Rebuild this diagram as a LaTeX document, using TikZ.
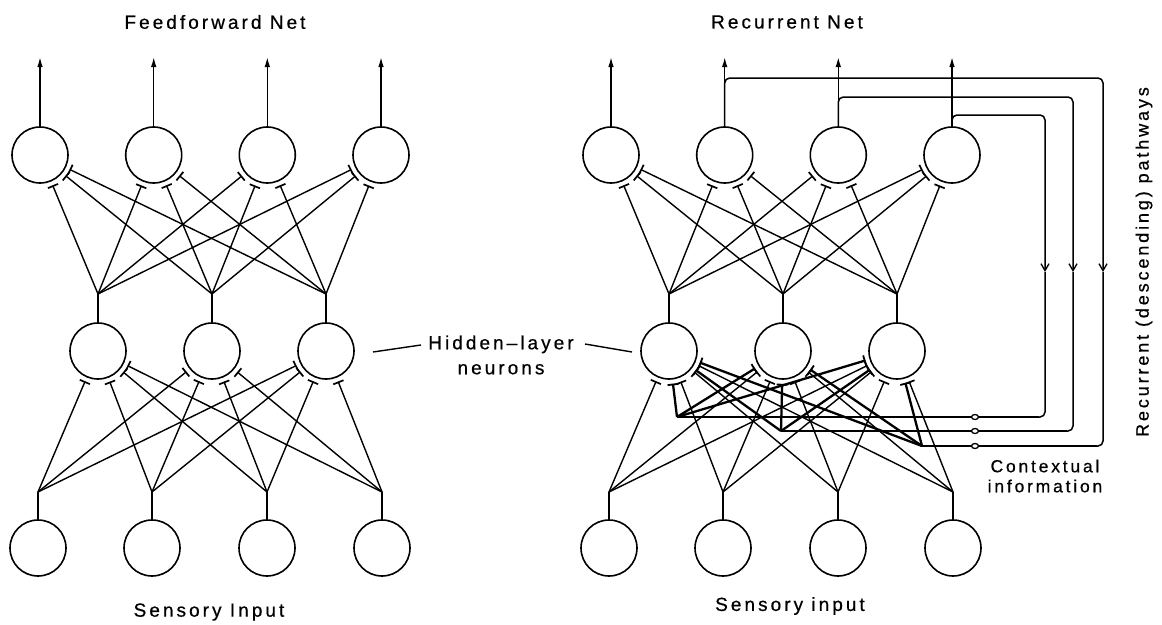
\documentclass[tikz,border=0pt]{standalone}
\usepackage{fontspec}
\setmainfont{Liberation Sans}[LetterSpace=16,FakeBold=0.6]
\usetikzlibrary{arrows.meta,shapes.geometric}
\begin{document}
\begin{tikzpicture}[x=1pt,y=-1pt,
  neuron/.style={circle,draw,line width=1.6pt,minimum size=56pt,inner sep=0pt},
  wire/.style={line width=1.4pt},
  syn/.style={wire,-{Bar[width=11pt,line width=1.7pt]},shorten >=4pt},
  ctxsyn/.style={line width=2.3pt,-{Bar[width=11pt,line width=1.8pt]},shorten >=4pt},
  outarrow/.style={wire,-{Latex[length=10pt,width=5.5pt]}},
  looppath/.style={line width=1.5pt,rounded corners=5pt},
  ctxline/.style={line width=2.6pt},
  downtip/.style={-{Straight Barb[length=7pt,width=8pt,line width=1.3pt]}},
  lbl/.style={font=\fontsize{19}{25}\selectfont,inner sep=0pt,align=center},
  vlbl/.style={font=\fontsize{18}{22}\selectfont,inner sep=0pt},
  smalllbl/.style={font=\fontsize{17.5}{20}\selectfont,inner sep=0pt,align=center},
  ctxmark/.style={ellipse,draw,fill=white,line width=1.3pt,minimum width=7pt,minimum height=5pt,inner sep=0pt}
]
\useasboundingbox (0,0) rectangle (1162,624);

% ---------------- left: feedforward net ----------------
\foreach \i/\x in {1/40,2/153.7,3/267.3,4/381}{
  \node[neuron] (LO\i) at (\x,155) {};
  \coordinate (LT\i) at (\x,57);
  \draw[outarrow] (LO\i.north) -- (LT\i);
}
\foreach \i/\x in {1/98,2/212,3/326}{
  \node[neuron] (LH\i) at (\x,351) {};
  \coordinate (LHJ\i) at (\x,294);
  \draw[wire] (LH\i.north) -- (LHJ\i);
}
\foreach \i/\x in {1/38,2/152,3/267,4/382}{
  \node[neuron] (LI\i) at (\x,548) {};
  \coordinate (LIJ\i) at (\x,492);
  \draw[wire] (LI\i.north) -- (LIJ\i);
}
\foreach \j in {1,2,3}{\foreach \k in {1,2,3,4}{\draw[syn] (LHJ\j) -- (LO\k);}}
\foreach \j in {1,2,3,4}{\foreach \k in {1,2,3}{\draw[syn] (LIJ\j) -- (LH\k);}}

% ---------------- right: recurrent net ----------------
\foreach \i/\x in {1/611,2/724.7,3/838.3,4/952}{
  \node[neuron] (RO\i) at (\x,155) {};
  \coordinate (RT\i) at (\x,57);
  \draw[outarrow] (RO\i.north) -- (RT\i);
}
\foreach \i/\x in {1/669,2/783,3/897}{
  \node[neuron] (RH\i) at (\x,351) {};
  \coordinate (RHJ\i) at (\x,294);
  \draw[wire] (RH\i.north) -- (RHJ\i);
}
\foreach \i/\x in {1/609,2/723,3/838,4/953}{
  \node[neuron] (RI\i) at (\x,548) {};
  \coordinate (RIJ\i) at (\x,492);
  \draw[wire] (RI\i.north) -- (RIJ\i);
}
\foreach \j in {1,2,3}{\foreach \k in {1,2,3,4}{\draw[syn] (RHJ\j) -- (RO\k);}}
\foreach \j in {1,2,3,4}{\foreach \k in {1,2,3}{\draw[syn] (RIJ\j) -- (RH\k);}}

% recurrent (descending) pathways
\coordinate (T1) at (1103,78);  \coordinate (D1) at (1103,272); \coordinate (E1) at (1103,446);
\coordinate (T2) at (1073,97);  \coordinate (D2) at (1073,272); \coordinate (E2) at (1073,431);
\coordinate (T3) at (1045,115); \coordinate (D3) at (1045,272); \coordinate (E3) at (1045,417);
\coordinate (C3) at (922,446);
\coordinate (C2) at (781,431);
\coordinate (C1) at (677,417);
\coordinate (F1) at (1097,446);
\coordinate (F2) at (1067,431);
\coordinate (F3) at (1039,417);

\draw[looppath,downtip] (RO2.north) -- (RO2.north |- T1) -- (T1) -- (D1);
\draw[looppath,downtip] (RO3.north) -- (RO3.north |- T2) -- (T2) -- (D2);
\draw[looppath,downtip] (RO4.north) -- (RO4.north |- T3) -- (T3) -- (D3);
\draw[looppath] (D1) -- (E1) -- (F1);
\draw[looppath] (D2) -- (E2) -- (F2);
\draw[looppath] (D3) -- (E3) -- (F3);
\draw[ctxline] (F1) -- (C3);
\draw[ctxline] (F2) -- (C2);
\draw[ctxline] (F3) -- (C1);
\foreach \c in {C1,C2,C3}{\foreach \h in {1,2,3}{\draw[ctxsyn] (\c) -- (RH\h);}}
\node[ctxmark] (m1) at (975,446) {};
\node[ctxmark] (m2) at (975,431) {};
\node[ctxmark] (m3) at (975,417) {};

% ---------------- labels ----------------
\node[lbl] (tff) at (215,22) {Feedforward Net};
\node[lbl] (trn) at (787,22) {Recurrent Net};
\node[lbl] (sil) at (209,612) {Sensory Input};
\node[lbl] (sir) at (790,606) {Sensory input};
\node[lbl] (hid) at (501,355) {Hidden–layer\\neurons};
\coordinate (hl1) at (373,352); \coordinate (hl2) at (421,345);
\coordinate (hr1) at (585,344); \coordinate (hr2) at (632,352);
\draw[wire] (hl1) -- (hl2);
\draw[wire] (hr1) -- (hr2);
\node[smalllbl] (ctxl) at (1045,476) {Contextual\\information};
\node[vlbl,rotate=90] (rdp) at (1144,262) {Recurrent (descending) pathways};
\end{tikzpicture}
\end{document}
